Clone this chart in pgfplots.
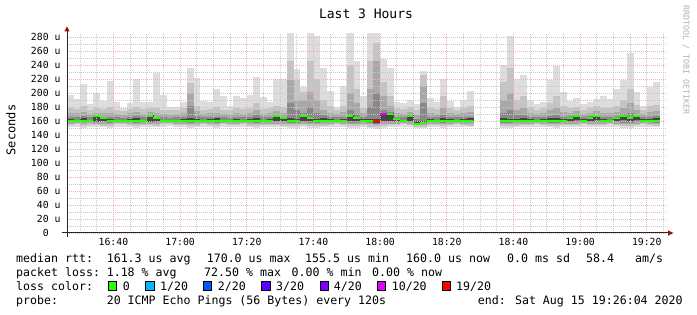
\documentclass[border=0pt]{standalone}
\usepackage{pgfplots}
\pgfplotsset{compat=1.18}
\usepackage{pgfplotstable}
\usepackage{fontspec}
\setmainfont{DejaVu Sans Mono}
\setmonofont{DejaVu Sans Mono}
\definecolor{sA}{HTML}{DDDDDD}
\definecolor{sB}{HTML}{C4C4C4}
\definecolor{sC}{HTML}{A8A8A8}
\definecolor{sD}{HTML}{888888}
\definecolor{sE}{HTML}{454545}
\definecolor{l0}{HTML}{26FF00}
\definecolor{l1}{HTML}{00B8FF}
\definecolor{l2}{HTML}{0059FF}
\definecolor{l3}{HTML}{5E00FF}
\definecolor{l4}{HTML}{7E00FF}
\definecolor{l10}{HTML}{DD00FF}
\definecolor{l19}{HTML}{FF0000}
\definecolor{arr}{HTML}{8B1414}
\definecolor{mgrid}{RGB}{236,180,180}
\definecolor{ngrid}{RGB}{200,200,200}
\newcommand{\lf}{\fontsize{11.6}{13}\selectfont}
\newcommand{\tf}{\fontsize{9.8}{11}\selectfont}
\pgfplotstableread{
x lo b2 b3 b4 t4 t3 t2 hi dlo dhi mg
27 151 154 156 158 166 172 179 197 159 163 160.4
29 152 155 157 159 165 171 177 192 160 162 160.4
31 150 153 156 158 167 173 181 213 159 164 160.4
33 152 154 157 159 165 170 176 184 160 162 160.4
35 151 154 156 158 168 172 179 200 159 168 167
37 151 153 156 158 166 171 177 189 160 165 164
39 150 153 155 157 166 172 180 217 160 163 160.4
41 152 155 157 159 165 170 176 187 160 162 160.4
43 152 155 157 159 164 168 174 178 160 161 160.4
45 151 154 156 158 166 171 177 186 159 163 160.4
47 150 153 155 157 167 173 180 220 159 164 160.4
49 152 154 156 158 165 170 177 187 160 162 160.4
51 151 154 156 158 168 173 179 187 159 168 167
53 151 153 156 158 166 171 178 228 160 165 164
55 152 155 157 158 165 170 176 197 160 162 160.4
57 153 155 157 159 164 169 175 180 160 162 160.4
59 152 154 156 158 165 170 176 180 159 162 160.4
61 151 154 156 158 166 171 178 187 159 163 160.4
63 150 153 155 157 181 200 214 235 159 164 160.4
65 151 153 156 158 167 174 182 221 160 163 160.4
67 152 155 157 159 165 170 176 189 159 162 160.4
69 151 154 156 158 166 171 177 187 159 163 160.4
71 150 153 155 157 166 172 180 205 160 164 160.4
73 152 155 157 159 165 170 176 196 160 162 160.4
75 152 154 156 158 164 169 175 182 160 162 160.4
77 151 154 156 158 166 171 178 196 159 163 160.4
79 152 155 157 159 165 170 177 193 160 162 160.4
81 151 153 156 158 166 172 179 197 159 163 160.4
83 150 153 155 157 168 176 186 223 159 164 160.4
85 152 154 156 158 165 170 177 194 160 162 160.4
87 151 154 156 158 166 171 178 187 159 163 160.4
89 151 154 156 158 168 174 182 220 160 168 167
91 151 153 156 158 166 172 180 220 160 165 164
93 150 153 155 157 185 219 245 286 159 164 160.4
95 150 153 155 157 175 190 219 234 159 163 160.4
97 151 154 156 158 172 190 202 208 160 168 167
99 150 153 155 157 180 202 245 286 160 166 164
101 150 153 155 157 172 190 220 281 159 163 160.4
103 151 153 156 158 168 176 190 236 159 164 160.4
105 151 154 156 158 166 172 181 203 160 163 160.4
107 152 155 157 159 165 170 175 180 160 162 160.4
109 151 154 156 158 166 173 182 210 159 163 160.4
111 150 153 155 157 175 200 240 286 160 168 167
113 150 153 155 157 170 185 205 246 160 166 164
115 151 154 156 158 166 171 178 196 159 163 160.4
117 150 152 155 157 180 205 245 286 158 163 160.4
119 149 152 154 156 200 245 271 286 157 163 nan
121 150 153 155 158 175 195 215 249 160 171 nan
123 151 154 156 158 173 182 195 235 160 171 170
125 152 154 156 158 166 171 178 187 160 164 163
127 152 155 157 159 165 170 177 185 159 162 160.4
129 151 154 156 158 168 173 180 190 160 168 167
131 150 152 154 155 163 169 176 184 155 160 156
133 150 152 154 156 185 210 225 232 155 160 157
135 151 154 156 158 166 172 179 193 159 163 160.4
137 152 154 156 158 165 170 177 187 160 162 160.4
139 150 153 155 157 168 178 195 220 159 164 160.4
141 151 154 156 158 166 171 178 188 160 163 160.4
143 152 155 157 159 165 170 175 180 160 162 160.4
145 151 154 156 158 166 172 179 190 159 163 160.4
147 151 153 156 158 166 173 181 203 159 164 160.4
157 150 153 155 157 172 190 215 240 159 164 160.4
159 150 153 155 157 175 200 235 282 159 163 160.4
161 151 153 156 158 168 176 190 220 160 163 160.4
163 151 154 156 158 168 178 195 225 159 164 160.4
165 152 154 156 158 166 172 180 190 160 163 160.4
167 152 155 157 159 165 170 176 184 160 162 160.4
169 151 154 156 158 166 171 178 187 159 163 160.4
171 151 153 155 157 167 175 185 219 160 164 160.4
173 150 153 155 157 168 178 195 239 159 164 160.4
175 151 154 156 158 166 173 182 202 160 163 160.4
177 151 154 156 158 167 172 179 189 160 165 164
179 151 154 156 158 169 174 180 193 161 168 167
181 152 155 157 159 165 170 176 184 159 163 160.4
183 151 154 156 158 167 172 179 187 160 165 164
185 151 154 156 158 169 174 181 192 161 168 167
187 152 154 156 158 166 171 178 196 159 163 160.4
189 152 155 157 159 165 171 178 192 160 162 160.4
191 151 154 156 158 167 173 181 206 160 165 164
193 150 153 155 157 170 178 190 219 161 168 167
195 150 153 155 157 172 185 205 257 160 165 164
197 151 154 156 158 169 175 183 201 161 168 167
199 152 155 157 159 165 170 176 181 159 163 160.4
201 151 154 156 158 166 173 181 209 160 163 160.4
203 151 153 155 157 167 174 183 216 159 164 160.4
}\smoke
\pgfplotsset{
  smoke/.style={draw=none, mark=none,
    error bars/.cd, y dir=minus, y explicit, error mark=none,
    error bar style={line width=6.8pt, draw=#1}},
}
\begin{document}
\begin{tikzpicture}[x=1pt,y=1pt]
\path[use as bounding box] (0,0) rectangle (697,315);
\begin{axis}[
  at={(67pt,82pt)}, anchor=south west,
  scale only axis, width=600pt, height=200pt,
  xmin=26.0667, xmax=206.0667, ymin=0, ymax=285.714,
  axis on top,
  axis line style={draw=none},
  major tick length=0pt, minor tick length=0pt,
  xtick={40,60,...,200},
  xticklabels={16:40,17:00,17:20,17:40,18:00,18:20,18:40,19:00,19:20},
  minor xtick={30,35,45,50,55,65,70,75,85,90,95,105,110,115,125,130,135,145,150,155,165,170,175,185,190,195,205},
  ytick={0,20,...,280},
  yticklabels={0\hphantom{xx},20 u,40 u,60 u,80 u,100 u,120 u,140 u,160 u,180 u,200 u,220 u,240 u,260 u,280 u},
  minor ytick={10,30,...,270},
  grid=both,
  major grid style={draw=mgrid, line width=0.9pt, dash pattern=on 1pt off 1pt},
  minor grid style={draw=ngrid, line width=0.9pt, dash pattern=on 1pt off 1pt},
  xticklabel style={font=\tf, anchor=base, inner sep=0pt, yshift=-13pt},
  yticklabel style={font=\tf, anchor=base east, inner sep=0pt, xshift=-6.3pt, yshift=-3.7pt},
]
\addplot[smoke=sA] table[x=x, y=hi, y error expr=\thisrow{hi}-\thisrow{lo}] {\smoke};
\addplot[smoke=sB] table[x=x, y=t2, y error expr=\thisrow{t2}-\thisrow{b2}] {\smoke};
\addplot[smoke=sC] table[x=x, y=t3, y error expr=\thisrow{t3}-\thisrow{b3}] {\smoke};
\addplot[smoke=sD] table[x=x, y=t4, y error expr=\thisrow{t4}-\thisrow{b4}] {\smoke};
\addplot[smoke=sE] table[x=x, y=dhi, y error expr=\thisrow{dhi}-\thisrow{dlo}] {\smoke};
\addplot[only marks, mark=-, mark size=3.333pt, mark options={draw=l0, line width=2pt}] table[x=x, y=mg] {\smoke};
\addplot[only marks, mark=-, mark size=3.333pt, mark options={draw=l19, line width=2pt}] coordinates {(119,160)};
\addplot[only marks, mark=-, mark size=3.333pt, mark options={draw=l10, line width=2pt}] coordinates {(121,170)};
\end{axis}
% axes
\draw[line width=1pt, black!85] (61.7,82) -- (668.5,82);
\fill[arr] (668,79.3) -- (673.5,82) -- (668,84.7) -- cycle;
\draw[line width=1pt, black!85] (67,78) -- (67,284);
\fill[arr] (64.3,283.5) -- (67,288.5) -- (69.7,283.5) -- cycle;
% title and side texts
\node[anchor=base, inner sep=0pt, font=\fontsize{13}{15}\selectfont] at (366,296.7) {Last 3 Hours};
\node[rotate=90, inner sep=0pt, font=\fontsize{12}{14}\selectfont] at (11,185) {Seconds};
\node[rotate=-90, inner sep=0pt, text=black!30, font=\fontsize{8.3}{10}\selectfont] at (686,255) {RRDTOOL / TOBI OETIKER};
% legend lines
\begin{scope}[every node/.style={anchor=base west, inner sep=0pt, font=\lf}]
\node at (16,52.3) {median rtt:};
\node at (106.6,52.3) {161.3 us avg};
\node at (206.6,52.3) {170.0 us max};
\node at (305,52.3) {155.5 us min};
\node at (406,52.3) {160.0 us now};
\node at (507,52.3) {0.0 ms sd};
\node at (586,52.3) {58.4};
\node at (635,52.3) {am/s};
\node at (16,38.3) {packet loss:};
\node at (106.6,38.3) {1.18 \% avg};
\node at (204,38.3) {72.50 \% max};
\node at (291.5,38.3) {0.00 \% min};
\node at (372,38.3) {0.00 \% now};
\node at (16,24.3) {loss color:};
\node at (122.6,24.3) {0};
\node at (160,24.3) {1/20};
\node at (217.6,24.3) {2/20};
\node at (276,24.3) {3/20};
\node at (333.6,24.3) {4/20};
\node at (391.6,24.3) {10/20};
\node at (456,24.3) {19/20};
\node at (16,10) {probe:};
\node at (106.6,10) {20 ICMP Echo Pings (56 Bytes) every 120s};
\node at (477.6,10) {end: Sat Aug 15 19:26:04 2020};
\end{scope}
\foreach \bx/\bc in {108.3/l0,145.7/l1,203.3/l2,261.7/l3,320/l4,377.3/l10,442.3/l19}{
  \filldraw[fill=\bc, draw=black, line width=1pt] (\bx,24.3) rectangle ++(8.3,9.5);
}
\end{tikzpicture}
\end{document}
